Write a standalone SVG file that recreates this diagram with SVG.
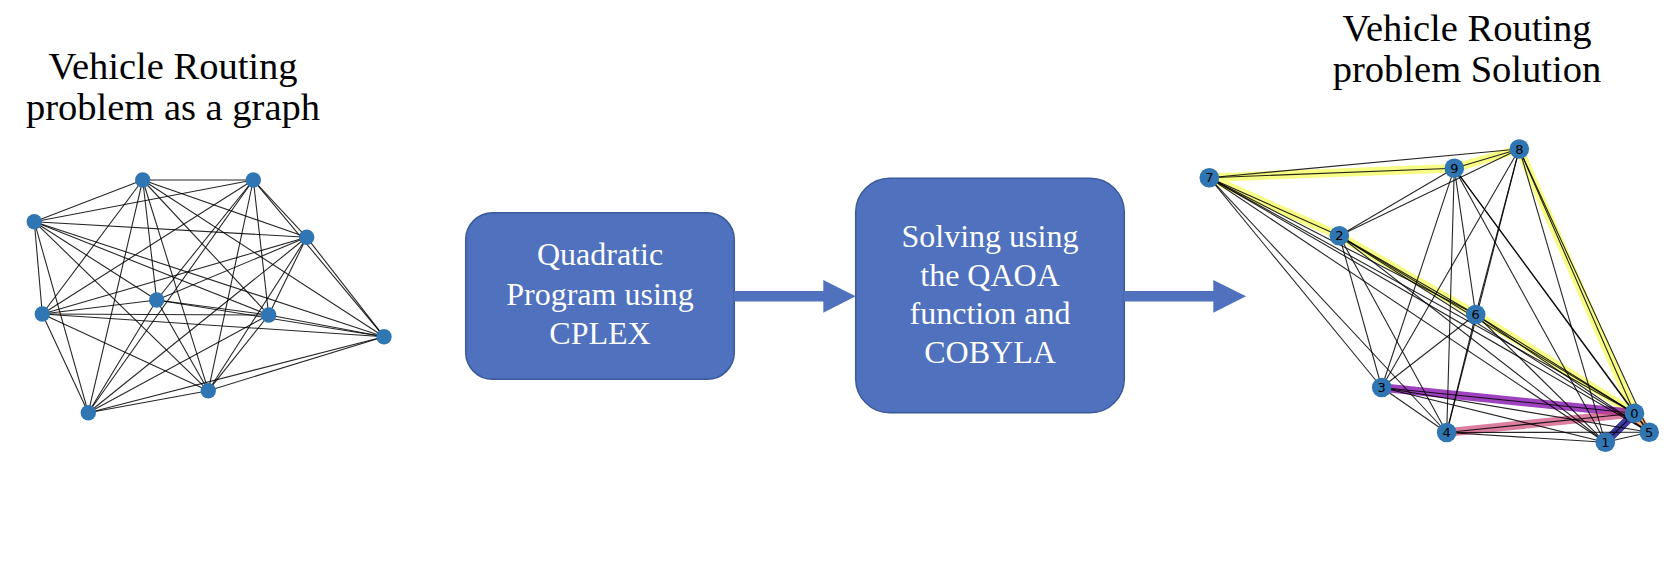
<svg xmlns="http://www.w3.org/2000/svg" width="1674" height="562" viewBox="0 0 1674 562">
<style>
.title{font-family:"Liberation Serif","Times New Roman",serif;font-size:38.5px;fill:#000;text-anchor:middle}
.btxt{font-family:"Liberation Serif","Times New Roman",serif;font-size:32px;fill:#fff;text-anchor:middle}
.box{fill:#4f71be;stroke:#3a5a9b;stroke-width:1.5}
.arrow{fill:#4f71be}
.e{stroke:#000;stroke-width:1.1;stroke-opacity:0.85}
.ln{fill:#2f76b2}
.rn{fill:#2f76b2}
.lbl{font-family:"DejaVu Sans",sans-serif;font-size:13px;fill:#000;text-anchor:middle;dominant-baseline:central}
.route{fill:none;stroke-linecap:round;stroke-width:8.5}
</style>
<rect width="1674" height="562" fill="#fff"/>

<g id="title-left">
<text class="title" x="173" y="78.7">Vehicle Routing</text>
<text class="title" x="173" y="120">problem as a graph</text>
</g>
<g id="title-right">
<text class="title" x="1467" y="40.7">Vehicle Routing</text>
<text class="title" x="1467" y="82.3">problem Solution</text>
</g>

<g id="left-graph-edges">
<line class="e" x1="142.7" y1="180" x2="253.3" y2="180"/>
<line class="e" x1="142.7" y1="180" x2="34.3" y2="221.7"/>
<line class="e" x1="142.7" y1="180" x2="306.7" y2="237.3"/>
<line class="e" x1="142.7" y1="180" x2="156.7" y2="300"/>
<line class="e" x1="142.7" y1="180" x2="42.3" y2="314"/>
<line class="e" x1="142.7" y1="180" x2="268.7" y2="315"/>
<line class="e" x1="142.7" y1="180" x2="384" y2="336.7"/>
<line class="e" x1="142.7" y1="180" x2="208.3" y2="390.7"/>
<line class="e" x1="142.7" y1="180" x2="88.3" y2="412.7"/>
<line class="e" x1="253.3" y1="180" x2="34.3" y2="221.7"/>
<line class="e" x1="253.3" y1="180" x2="306.7" y2="237.3"/>
<line class="e" x1="253.3" y1="180" x2="156.7" y2="300"/>
<line class="e" x1="253.3" y1="180" x2="42.3" y2="314"/>
<line class="e" x1="253.3" y1="180" x2="268.7" y2="315"/>
<line class="e" x1="253.3" y1="180" x2="384" y2="336.7"/>
<line class="e" x1="253.3" y1="180" x2="208.3" y2="390.7"/>
<line class="e" x1="253.3" y1="180" x2="88.3" y2="412.7"/>
<line class="e" x1="34.3" y1="221.7" x2="306.7" y2="237.3"/>
<line class="e" x1="34.3" y1="221.7" x2="156.7" y2="300"/>
<line class="e" x1="34.3" y1="221.7" x2="42.3" y2="314"/>
<line class="e" x1="34.3" y1="221.7" x2="268.7" y2="315"/>
<line class="e" x1="34.3" y1="221.7" x2="384" y2="336.7"/>
<line class="e" x1="34.3" y1="221.7" x2="208.3" y2="390.7"/>
<line class="e" x1="34.3" y1="221.7" x2="88.3" y2="412.7"/>
<line class="e" x1="306.7" y1="237.3" x2="156.7" y2="300"/>
<line class="e" x1="306.7" y1="237.3" x2="42.3" y2="314"/>
<line class="e" x1="306.7" y1="237.3" x2="268.7" y2="315"/>
<line class="e" x1="306.7" y1="237.3" x2="384" y2="336.7"/>
<line class="e" x1="306.7" y1="237.3" x2="208.3" y2="390.7"/>
<line class="e" x1="306.7" y1="237.3" x2="88.3" y2="412.7"/>
<line class="e" x1="156.7" y1="300" x2="42.3" y2="314"/>
<line class="e" x1="156.7" y1="300" x2="268.7" y2="315"/>
<line class="e" x1="156.7" y1="300" x2="384" y2="336.7"/>
<line class="e" x1="156.7" y1="300" x2="208.3" y2="390.7"/>
<line class="e" x1="156.7" y1="300" x2="88.3" y2="412.7"/>
<line class="e" x1="42.3" y1="314" x2="268.7" y2="315"/>
<line class="e" x1="42.3" y1="314" x2="384" y2="336.7"/>
<line class="e" x1="42.3" y1="314" x2="208.3" y2="390.7"/>
<line class="e" x1="42.3" y1="314" x2="88.3" y2="412.7"/>
<line class="e" x1="268.7" y1="315" x2="384" y2="336.7"/>
<line class="e" x1="268.7" y1="315" x2="208.3" y2="390.7"/>
<line class="e" x1="268.7" y1="315" x2="88.3" y2="412.7"/>
<line class="e" x1="384" y1="336.7" x2="208.3" y2="390.7"/>
<line class="e" x1="384" y1="336.7" x2="88.3" y2="412.7"/>
<line class="e" x1="208.3" y1="390.7" x2="88.3" y2="412.7"/>
</g>
<g id="left-graph-nodes">
<g id="lnode-a"><circle class="ln" cx="142.7" cy="180" r="7.7"/></g>
<g id="lnode-b"><circle class="ln" cx="253.3" cy="180" r="7.7"/></g>
<g id="lnode-c"><circle class="ln" cx="34.3" cy="221.7" r="7.7"/></g>
<g id="lnode-d"><circle class="ln" cx="306.7" cy="237.3" r="7.7"/></g>
<g id="lnode-e"><circle class="ln" cx="156.7" cy="300" r="7.7"/></g>
<g id="lnode-f"><circle class="ln" cx="42.3" cy="314" r="7.7"/></g>
<g id="lnode-g"><circle class="ln" cx="268.7" cy="315" r="7.7"/></g>
<g id="lnode-h"><circle class="ln" cx="384" cy="336.7" r="7.7"/></g>
<g id="lnode-i"><circle class="ln" cx="208.3" cy="390.7" r="7.7"/></g>
<g id="lnode-j"><circle class="ln" cx="88.3" cy="412.7" r="7.7"/></g>
</g>

<g id="box-quadratic">
<rect class="box" x="465.7" y="212.7" width="268.6" height="166.6" rx="27" ry="27"/>
<text class="btxt" x="600" y="265">Quadratic</text>
<text class="btxt" x="600" y="304.5">Program using</text>
<text class="btxt" x="600" y="343.5">CPLEX</text>
</g>
<g id="box-qaoa">
<rect class="box" x="855.7" y="178.3" width="268.6" height="234.4" rx="34" ry="34"/>
<text class="btxt" x="990" y="246.7">Solving using</text>
<text class="btxt" x="990" y="286">the QAOA</text>
<text class="btxt" x="990" y="324.3">function and</text>
<text class="btxt" x="990" y="362.7">COBYLA</text>
</g>

<g id="connectors">
<g id="arrow-1">
<rect class="arrow" x="734" y="291" width="90" height="10.5"/>
<polygon class="arrow" points="823.3,280 855.7,296.3 823.3,312.7"/>
</g>
<g id="arrow-2">
<rect class="arrow" x="1124" y="291" width="90" height="10.5"/>
<polygon class="arrow" points="1213.3,280 1246,296.3 1213.3,312.7"/>
</g>
</g>

<g id="right-graph-routes">
<polyline class="route" stroke="#f0f921" stroke-opacity="0.55" points="1634.5,413.3 1475.7,314.5 1339.3,235.7 1209.3,177.7 1454.3,168.3 1519.3,149 1634.5,413.3"/>
<line class="route" stroke="#7e03a8" stroke-opacity="0.75" x1="1381.7" y1="387.5" x2="1634.5" y2="413.3"/>
<line class="route" stroke="#cc4778" stroke-opacity="0.7" x1="1446.7" y1="432.5" x2="1634.5" y2="413.3"/>
<line class="route" stroke="#0d0887" stroke-opacity="0.8" x1="1605.3" y1="442.3" x2="1634.5" y2="413.3"/>
<line class="route" stroke="#f89540" stroke-opacity="0.8" x1="1649.2" y1="432.3" x2="1634.5" y2="413.3"/>
</g>
<g id="right-graph-edges">
<line class="e" x1="1634.5" y1="413.3" x2="1605.3" y2="442.3"/>
<line class="e" x1="1634.5" y1="413.3" x2="1339.3" y2="235.7"/>
<line class="e" x1="1634.5" y1="413.3" x2="1381.7" y2="387.5"/>
<line class="e" x1="1634.5" y1="413.3" x2="1446.7" y2="432.5"/>
<line class="e" x1="1634.5" y1="413.3" x2="1649.2" y2="432.3"/>
<line class="e" x1="1634.5" y1="413.3" x2="1475.7" y2="314.5"/>
<line class="e" x1="1634.5" y1="413.3" x2="1209.3" y2="177.7"/>
<line class="e" x1="1634.5" y1="413.3" x2="1519.3" y2="149"/>
<line class="e" x1="1634.5" y1="413.3" x2="1454.3" y2="168.3"/>
<line class="e" x1="1605.3" y1="442.3" x2="1339.3" y2="235.7"/>
<line class="e" x1="1605.3" y1="442.3" x2="1381.7" y2="387.5"/>
<line class="e" x1="1605.3" y1="442.3" x2="1446.7" y2="432.5"/>
<line class="e" x1="1605.3" y1="442.3" x2="1649.2" y2="432.3"/>
<line class="e" x1="1605.3" y1="442.3" x2="1475.7" y2="314.5"/>
<line class="e" x1="1605.3" y1="442.3" x2="1209.3" y2="177.7"/>
<line class="e" x1="1605.3" y1="442.3" x2="1519.3" y2="149"/>
<line class="e" x1="1605.3" y1="442.3" x2="1454.3" y2="168.3"/>
<line class="e" x1="1339.3" y1="235.7" x2="1381.7" y2="387.5"/>
<line class="e" x1="1339.3" y1="235.7" x2="1446.7" y2="432.5"/>
<line class="e" x1="1339.3" y1="235.7" x2="1649.2" y2="432.3"/>
<line class="e" x1="1339.3" y1="235.7" x2="1475.7" y2="314.5"/>
<line class="e" x1="1339.3" y1="235.7" x2="1209.3" y2="177.7"/>
<line class="e" x1="1339.3" y1="235.7" x2="1519.3" y2="149"/>
<line class="e" x1="1339.3" y1="235.7" x2="1454.3" y2="168.3"/>
<line class="e" x1="1381.7" y1="387.5" x2="1446.7" y2="432.5"/>
<line class="e" x1="1381.7" y1="387.5" x2="1649.2" y2="432.3"/>
<line class="e" x1="1381.7" y1="387.5" x2="1475.7" y2="314.5"/>
<line class="e" x1="1381.7" y1="387.5" x2="1209.3" y2="177.7"/>
<line class="e" x1="1381.7" y1="387.5" x2="1519.3" y2="149"/>
<line class="e" x1="1381.7" y1="387.5" x2="1454.3" y2="168.3"/>
<line class="e" x1="1446.7" y1="432.5" x2="1649.2" y2="432.3"/>
<line class="e" x1="1446.7" y1="432.5" x2="1475.7" y2="314.5"/>
<line class="e" x1="1446.7" y1="432.5" x2="1209.3" y2="177.7"/>
<line class="e" x1="1446.7" y1="432.5" x2="1519.3" y2="149"/>
<line class="e" x1="1446.7" y1="432.5" x2="1454.3" y2="168.3"/>
<line class="e" x1="1649.2" y1="432.3" x2="1475.7" y2="314.5"/>
<line class="e" x1="1649.2" y1="432.3" x2="1209.3" y2="177.7"/>
<line class="e" x1="1649.2" y1="432.3" x2="1519.3" y2="149"/>
<line class="e" x1="1649.2" y1="432.3" x2="1454.3" y2="168.3"/>
<line class="e" x1="1475.7" y1="314.5" x2="1209.3" y2="177.7"/>
<line class="e" x1="1475.7" y1="314.5" x2="1519.3" y2="149"/>
<line class="e" x1="1475.7" y1="314.5" x2="1454.3" y2="168.3"/>
<line class="e" x1="1209.3" y1="177.7" x2="1519.3" y2="149"/>
<line class="e" x1="1209.3" y1="177.7" x2="1454.3" y2="168.3"/>
<line class="e" x1="1519.3" y1="149" x2="1454.3" y2="168.3"/>
</g>
<g id="right-graph-nodes">
<g id="rnode-0"><circle class="rn" cx="1634.5" cy="413.3" r="9.8"/><text class="lbl" x="1634.5" y="413.3">0</text></g>
<g id="rnode-1"><circle class="rn" cx="1605.3" cy="442.3" r="9.8"/><text class="lbl" x="1605.3" y="442.3">1</text></g>
<g id="rnode-2"><circle class="rn" cx="1339.3" cy="235.7" r="9.8"/><text class="lbl" x="1339.3" y="235.7">2</text></g>
<g id="rnode-3"><circle class="rn" cx="1381.7" cy="387.5" r="9.8"/><text class="lbl" x="1381.7" y="387.5">3</text></g>
<g id="rnode-4"><circle class="rn" cx="1446.7" cy="432.5" r="9.8"/><text class="lbl" x="1446.7" y="432.5">4</text></g>
<g id="rnode-5"><circle class="rn" cx="1649.2" cy="432.3" r="9.8"/><text class="lbl" x="1649.2" y="432.3">5</text></g>
<g id="rnode-6"><circle class="rn" cx="1475.7" cy="314.5" r="9.8"/><text class="lbl" x="1475.7" y="314.5">6</text></g>
<g id="rnode-7"><circle class="rn" cx="1209.3" cy="177.7" r="9.8"/><text class="lbl" x="1209.3" y="177.7">7</text></g>
<g id="rnode-8"><circle class="rn" cx="1519.3" cy="149" r="9.8"/><text class="lbl" x="1519.3" y="149">8</text></g>
<g id="rnode-9"><circle class="rn" cx="1454.3" cy="168.3" r="9.8"/><text class="lbl" x="1454.3" y="168.3">9</text></g>
</g>
</svg>
